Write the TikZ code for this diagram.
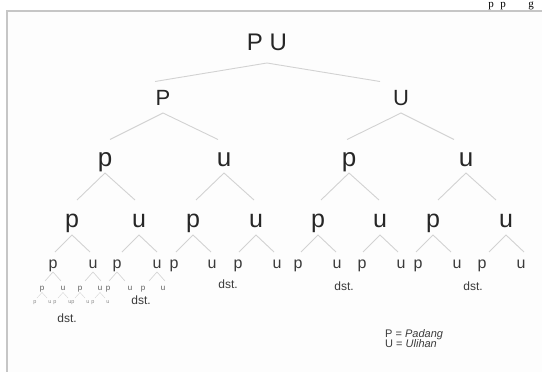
\documentclass[tikz,border=0pt]{standalone}
\usepackage{fontspec}
\setmainfont{Liberation Sans}
\newfontfamily\pagefont{Liberation Serif}
\usetikzlibrary{calc}
\definecolor{inkA}{HTML}{262626}
\definecolor{inkB}{HTML}{3a3a3a}
\definecolor{inkC}{HTML}{5e5e5e}
\definecolor{inkD}{HTML}{8a8a8a}
\definecolor{branchc}{HTML}{d2d2d2}
\definecolor{framec}{HTML}{c6c6c6}
\definecolor{bgin}{HTML}{fdfdfd}
\newcommand\lam[6]{%
  \coordinate (#1-a) at ($(#1.base)+(0,#3)$);
  \coordinate (#1-l) at ($(#1.base)+(-#5,#4)$);
  \coordinate (#1-r) at ($(#1.base)+(#6,#4)$);
  \draw[#2] (#1-l) -- (#1-a) -- (#1-r);}
\begin{document}
\begin{tikzpicture}[x=1pt,y=-1pt,
  lbl/.style={inner sep=0pt, anchor=base},
  t0/.style={lbl, text=inkA, font=\fontsize{24}{24}\selectfont},
  t1/.style={lbl, text=inkA, font=\fontsize{22}{22}\selectfont},
  t2/.style={lbl, text=inkA, font=\fontsize{26}{26}\selectfont},
  t3/.style={lbl, text=inkA, font=\fontsize{25}{25}\selectfont},
  t4/.style={lbl, text=inkB, font=\fontsize{16}{16}\selectfont},
  t5/.style={lbl, text=inkC, font=\fontsize{8}{8}\selectfont},
  t6/.style={lbl, text=inkD, font=\fontsize{5.5}{5.5}\selectfont},
  dstl/.style={lbl, text=inkB, font=\fontsize{12}{12}\selectfont},
  leg/.style={inner sep=0pt, anchor=base west, text=inkB, font=\fontsize{11}{11}\selectfont},
  frag/.style={inner sep=0pt, anchor=base, text=black, font=\pagefont\fontsize{11}{11}\selectfont},
  br/.style={draw=branchc, line width=0.9pt},
  brs/.style={draw=branchc, line width=0.6pt},
  brt/.style={draw=branchc!85!white, line width=0.45pt}
]
\useasboundingbox (0,0) rectangle (542,372);
\fill[white] (0,0) rectangle (542,372);
\fill[bgin] (7,11) rectangle (542,372);
% fragment of the page above
\node[frag] (f1) at (491,8) {p};
\node[frag] (f2) at (503,8) {p};
\node[frag] (f3) at (531,8) {g};
\draw[framec, line width=1.3pt] (7,372) -- (7,11) -- (542,11);

% level 0
\node[t0] (r) at (267,50) {P U};
% level 1
\node[t1] (P) at (163,105) {P};
\node[t1] (U) at (401,105) {U};
% level 2
\node[t2] (Pp) at (105,166) {p};
\node[t2] (Pu) at (224,166) {u};
\node[t2] (Up) at (349,166) {p};
\node[t2] (Uu) at (466,166) {u};
% level 3
\node[t3] (Ppp) at (72,227) {p};
\node[t3] (Ppu) at (139,227) {u};
\node[t3] (Pup) at (193,227) {p};
\node[t3] (Puu) at (256,227) {u};
\node[t3] (Upp) at (318,227) {p};
\node[t3] (Upu) at (380,227) {u};
\node[t3] (Uup) at (433,227) {p};
\node[t3] (Uuu) at (506,227) {u};
% level 4
\node[t4] (Pppp) at (53,268) {p};
\node[t4] (Pppu) at (93,268) {u};
\node[t4] (Ppup) at (117,268) {p};
\node[t4] (Ppuu) at (157,268) {u};
\node[t4] (Pupp) at (174,268) {p};
\node[t4] (Pupu) at (212,268) {u};
\node[t4] (Puup) at (238,268) {p};
\node[t4] (Puuu) at (277,268) {u};
\node[t4] (Uppp) at (298,268) {p};
\node[t4] (Uppu) at (337,268) {u};
\node[t4] (Upup) at (362,268) {p};
\node[t4] (Upuu) at (401,268) {u};
\node[t4] (Uupp) at (418,268) {p};
\node[t4] (Uupu) at (457,268) {u};
\node[t4] (Uuup) at (482,268) {p};
\node[t4] (Uuuu) at (521,268) {u};
% level 5
\node[t5] (Ppppp) at (42,290) {p};
\node[t5] (Ppppu) at (63,290) {u};
\node[t5] (Pppup) at (80,290) {p};
\node[t5] (Pppuu) at (100,290) {u};
\node[t5] (Ppupp) at (108,290) {p};
\node[t5] (Ppupu) at (130,290) {u};
\node[t5] (Ppuup) at (143,290) {p};
\node[t5] (Ppuuu) at (163,290) {u};
% level 6
\node[t6] (Pppppp) at (35,303) {p};
\node[t6] (Pppppu) at (50,303) {u};
\node[t6] (Ppppup) at (55,303) {p};
\node[t6] (Ppppuu) at (70,303) {u};
\node[t6] (Pppupp) at (73,303) {p};
\node[t6] (Pppupu) at (88,303) {u};
\node[t6] (Pppuup) at (93,303) {p};
\node[t6] (Pppuuu) at (108,303) {u};
% dst. labels
\node[dstl] (d1) at (67,322) {dst.};
\node[dstl] (d2) at (141,304) {dst.};
\node[dstl] (d3) at (228,288) {dst.};
\node[dstl] (d4) at (344,290) {dst.};
\node[dstl] (d5) at (473,290) {dst.};
% legend
\node[leg] (leg1) at (385,337) {P = \textit{Padang}};
\node[leg] (leg2) at (385,347) {U = \textit{Ulihan}};

% branches
\lam{r}{br}{13}{31.5}{112}{113}
\lam{P}{br}{8}{34.5}{53}{55}
\lam{U}{br}{8}{34.5}{54}{53}
\foreach \n in {Pp,Pu,Up,Uu}{\lam{\n}{br}{7}{34}{28}{30}}
\foreach \n in {Ppp,Ppu,Pup,Puu,Upp,Upu,Uup,Uuu}{\lam{\n}{br}{8}{25}{17}{18}}
\foreach \n in {Pppp,Pppu,Ppup,Ppuu}{\lam{\n}{brs}{4}{13}{8}{8}}
\foreach \n in {Ppppp,Ppppu,Pppup,Pppuu}{\lam{\n}{brt}{2.5}{8}{5}{5}}
\end{tikzpicture}
\end{document}
